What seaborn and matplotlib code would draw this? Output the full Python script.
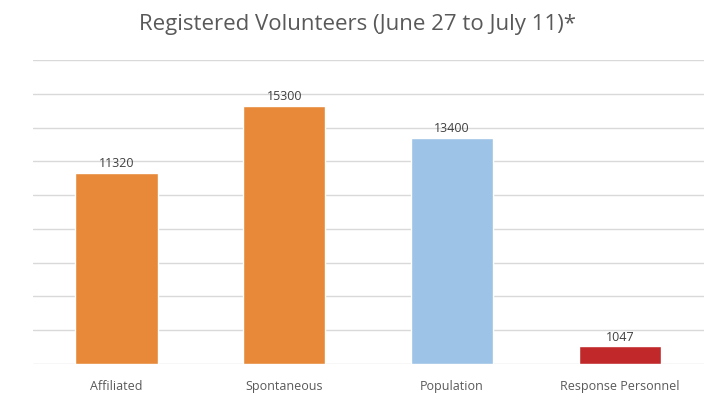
import pandas as pd
import matplotlib.pyplot as plt
import seaborn as sns

categories = ["Affiliated", "Spontaneous", "Population", "Response Personnel"]
volunteers = [11320, 15300, 13400, 1047]
bar_colors = ["#E8893A", "#E8893A", "#9DC3E6", "#C0282A"]

df = pd.DataFrame({"Category": categories, "Volunteers": volunteers})

sns.set_style("white")
plt.rcParams['font.family'] = ['Open Sans', 'DejaVu Sans']

fig = plt.figure(figsize=(7.08, 4.04), dpi=100)
ax = fig.add_axes([0.046, 0.099, 0.948, 0.752])

sns.barplot(data=df, x="Category", y="Volunteers", hue="Category",
            palette=bar_colors, saturation=1, width=0.49, legend=False,
            ax=ax, zorder=3)

ax.set_ylim(0, 18000)
ax.set_yticks(range(0, 18001, 2000))
ax.yaxis.grid(True, color="#D9D9D9", linewidth=1, zorder=0)
ax.set_axisbelow(True)
ax.tick_params(axis="y", left=False, labelleft=False)
ax.tick_params(axis="x", bottom=False, colors="#595959", labelsize=9, pad=8)
ax.set_xlabel("")
ax.set_ylabel("")
sns.despine(ax=ax, left=True, bottom=True)

for i, v in enumerate(volunteers):
    ax.text(i, v + 150, str(v), ha="center", va="bottom", fontsize=9, color="#404040")

fig.suptitle("Registered Volunteers (June 27 to July 11)*", x=0.505, y=0.965,
             fontsize=16, color="#595959")

plt.savefig("out.png", dpi=100)
